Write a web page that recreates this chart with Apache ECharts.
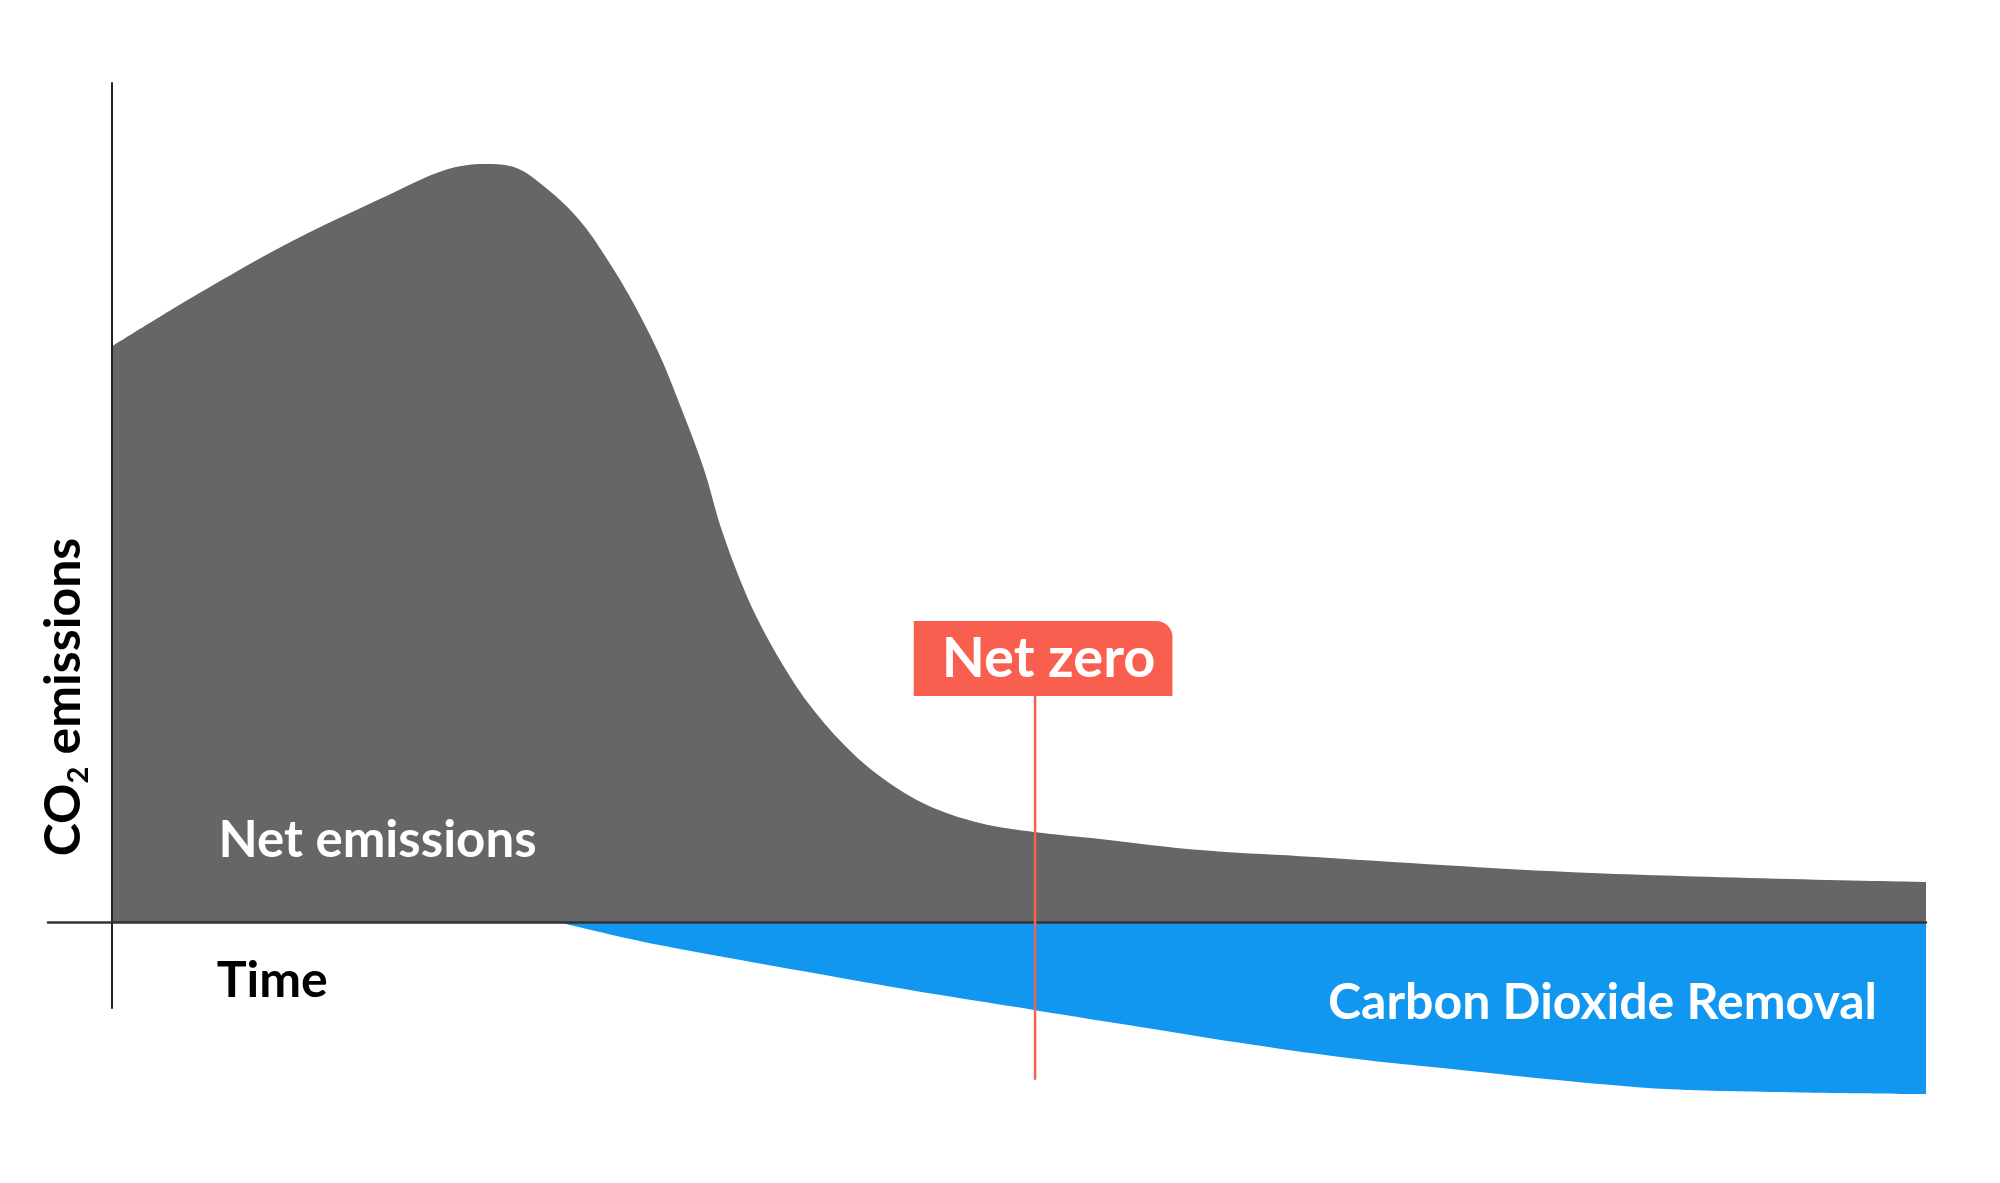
<!DOCTYPE html>
<html>
<head>
<meta charset="utf-8">
<script src="https://cdn.jsdelivr.net/npm/echarts@6/dist/echarts.min.js"></script>
<style>
html,body{margin:0;padding:0;background:#fff;}
#chart{width:2000px;height:1183px;}
</style>
</head>
<body>
<div id="chart"></div>
<script>
// Net emissions (grey area)
const timeNet = [0, 4.66, 9.89, 15.18, 18.38, 20.58, 22.29, 24.0, 25.77, 27.2, 28.69, 30.18, 31.39, 32.66, 33.59, 34.58, 35.57, 37.06, 38.55, 40.48, 42.46, 44.94, 47.86, 50.84, 54.48, 59.99, 65.5, 81.59, 100];
const netEmissions = [133.7, 145.7, 158.1, 168.8, 174.8, 176.2, 175.3, 170.4, 163.2, 154.8, 144.4, 132.0, 119.5, 105.1, 91.6, 80.2, 70.7, 59.3, 50.0, 40.7, 33.5, 27.2, 23.0, 20.9, 19.3, 16.7, 15.3, 11.4, 9.3];

// Carbon Dioxide Removal (blue area, negative)
const timeCdr = [24.6, 29.1, 34.6, 40.2, 45.7, 50.9, 56.7, 62.2, 67.7, 73.2, 84.1, 91.5, 100];
const removal = [0, -4.4, -8.8, -13.0, -17.0, -20.5, -24.4, -28.1, -31.4, -33.9, -38.4, -39.5, -40.0];

// Net zero marker
const netZeroTime = 50.9;
const netZeroSpan = [52.5, -36.7];

const netData = timeNet.map((t, i) => [t, netEmissions[i]]);
const cdrData = timeCdr.map((t, i) => [t, removal[i]]);

const FONT = "Lato, 'Open Sans', sans-serif";

const chart = echarts.init(document.getElementById('chart'), null, {renderer: 'canvas'});
chart.setOption({
  animation: false,
  backgroundColor: '#ffffff',
  grid: {left: 48, right: 74, top: 83, bottom: 175, containLabel: false},
  xAxis: {
    type: 'value', min: -3.5, max: 100, z: 10,
    axisLine: {show: true, onZero: true, lineStyle: {color: '#333', width: 2.5}},
    axisTick: {show: false}, axisLabel: {show: false}, splitLine: {show: false}
  },
  yAxis: {
    type: 'value', min: -20, max: 195, z: 10,
    axisLine: {show: true, onZero: true, lineStyle: {color: '#222', width: 2}},
    axisTick: {show: false}, axisLabel: {show: false}, splitLine: {show: false}
  },
  series: [
    {
      type: 'line', name: 'Net emissions', data: netData,
      smooth: 0.35, symbol: 'none', clip: false,
      lineStyle: {width: 0}, areaStyle: {color: '#666666', opacity: 1}, z: 2
    },
    {
      type: 'line', name: 'Carbon Dioxide Removal', data: cdrData,
      smooth: 0.35, symbol: 'none', clip: false,
      lineStyle: {width: 0}, areaStyle: {color: '#1197EF', opacity: 1}, z: 2
    },
    {
      type: 'line', name: 'Net zero line',
      data: [[netZeroTime, netZeroSpan[0]], [netZeroTime, netZeroSpan[1]]],
      symbol: 'none', clip: false, silent: true,
      lineStyle: {color: '#EF6352', width: 2.5}, z: 20
    },
    {
      type: 'scatter', symbolSize: 0, silent: true, clip: false, z: 30,
      itemStyle: {opacity: 1},
      data: [
        {value: [netZeroTime, netZeroSpan[0]], label: {
          show: true, position: 'top', distance: 0, offset: [8, 0],
          formatter: 'Net zero', color: '#fff', fontFamily: FONT, fontWeight: 700,
          fontSize: 56, lineHeight: 55, padding: [10, 17, 10, 28],
          backgroundColor: '#F95F4E', borderRadius: [0, 16, 0, 0]
        }},
        {value: [5.9, 18.9], label: {
          show: true, position: 'inside', align: 'left', verticalAlign: 'middle',
          formatter: 'Net emissions', color: '#fff', fontFamily: FONT, fontWeight: 700, fontSize: 51
        }},
        {value: [5.8, -13.6], label: {
          show: true, position: 'inside', align: 'left', verticalAlign: 'middle',
          formatter: 'Time', color: '#000', fontFamily: FONT, fontWeight: 700, fontSize: 50
        }},
        {value: [97.3, -18.7], label: {
          show: true, position: 'inside', align: 'right', verticalAlign: 'middle',
          formatter: 'Carbon Dioxide Removal', color: '#fff', fontFamily: FONT, fontWeight: 700, fontSize: 50
        }},
        {value: [-2.6, 52.3], label: {
          show: true, position: 'inside', align: 'center', verticalAlign: 'middle', rotate: 90,
          formatter: 'CO{sub|2} emissions', color: '#000', fontFamily: FONT, fontWeight: 700, fontSize: 50,
          lineHeight: 58,
          rich: {sub: {fontSize: 29, fontFamily: FONT, fontWeight: 700, color: '#000', lineHeight: 21, verticalAlign: 'bottom'}}
        }}
      ]
    }
  ]
});
</script>
</body>
</html>
